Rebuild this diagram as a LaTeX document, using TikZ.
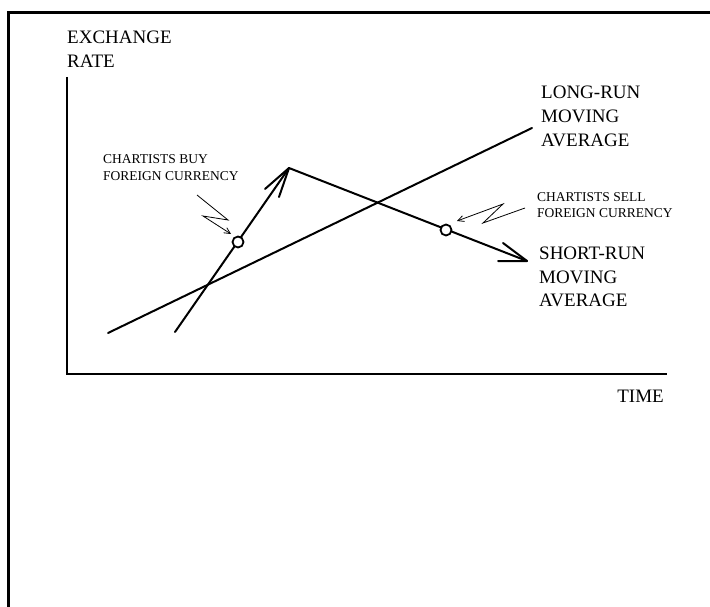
\documentclass[tikz,border=0pt]{standalone}
\usepackage{fontspec}
\setmainfont{Liberation Serif}
\usetikzlibrary{arrows.meta}
\begin{document}
\begin{tikzpicture}[x=1pt,y=-1pt,
  big/.style={font=\fontsize{19}{24}\selectfont,inner sep=0pt,anchor=base west},
  small/.style={font=\fontsize{13.5}{17}\selectfont,inner sep=0pt,anchor=base west},
  thick line/.style={line width=2pt,line cap=round,line join=round},
  zig/.style={line width=0.8pt,-{Straight Barb[length=6pt,width=6pt]}},
  ring/.style={circle,draw,line width=1.8pt,fill=white,minimum size=11pt,inner sep=0pt}]
\useasboundingbox (0,0) rectangle (710,607);
% frame
\draw[line width=3pt] (8,608) -- (8,13) -- (712,13);
% axes
\coordinate (ytop) at (67,77);
\coordinate (origin) at (67,374);
\coordinate (xend) at (667,374);
\draw[line width=2pt] (ytop) -- (origin) -- (xend);
% axis labels
\node[big] (ex) at (67,44) {EXCHANGE};
\node[big] (rate) at (67,68) {RATE};
\node[big,anchor=base east] (time) at (664,402) {TIME};
% long-run line
\coordinate (l1) at (108,333);
\coordinate (l2) at (532,128);
\draw[thick line] (l1) -- (l2);
% short-run path
\coordinate (s1) at (175,332);
\coordinate (peak) at (289,168);
\coordinate (tip) at (527,261);
\draw[thick line] (s1) -- (peak) -- (tip);
\coordinate (b1) at (265,189);
\coordinate (b2) at (279,197);
\draw[thick line] (b1) -- (peak) -- (b2);
\coordinate (b3) at (503,243);
\coordinate (b4) at (498,261);
\draw[thick line] (b3) -- (tip) -- (b4);
% circles
\node[ring] (cbuy) at (238,242) {};
\node[ring] (csell) at (446,230) {};
% zigzag arrows
\coordinate (z1) at (197,195);
\coordinate (z2) at (228,220);
\coordinate (z3) at (203,216);
\coordinate (z4) at (231,234);
\draw[zig] (z1) -- (z2) -- (z3) -- (z4);
\coordinate (w1) at (525,208);
\coordinate (w2) at (483,223);
\coordinate (w3) at (503,204);
\coordinate (w4) at (457,221);
\draw[zig] (w1) -- (w2) -- (w3) -- (w4);
% labels
\node[small] (buy1) at (103,164) {CHARTISTS BUY};
\node[small] (buy2) at (103,181) {FOREIGN CURRENCY};
\node[small] (sell1) at (537,201) {CHARTISTS SELL};
\node[small] (sell2) at (537,218) {FOREIGN CURRENCY};
\node[big] (lr1) at (541,99) {LONG-RUN};
\node[big] (lr2) at (541,123) {MOVING};
\node[big] (lr3) at (541,147) {AVERAGE};
\node[big] (sr1) at (539,259) {SHORT-RUN};
\node[big] (sr2) at (539,283) {MOVING};
\node[big] (sr3) at (539,306) {AVERAGE};
\end{tikzpicture}
\end{document}
